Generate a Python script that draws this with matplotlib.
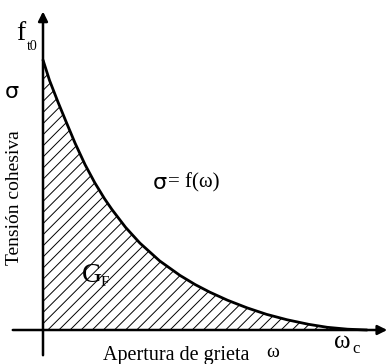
import matplotlib.pyplot as plt
from matplotlib.patches import FancyArrowPatch

# curva de ablandamiento (sigma / f_t0 frente a omega / omega_c)
omega = [0.0, 0.02, 0.046, 0.07, 0.099, 0.13, 0.16, 0.19, 0.213, 0.255, 0.299,
         0.36, 0.423, 0.47, 0.515, 0.57, 0.63, 0.69, 0.753, 0.82, 0.877, 0.94, 1.0]
sigma = [1.0, 0.925, 0.845, 0.775, 0.692, 0.612, 0.545, 0.486, 0.446, 0.38, 0.322,
         0.256, 0.202, 0.168, 0.14, 0.11, 0.082, 0.058, 0.038, 0.021, 0.01, 0.003, 0.0]

fig = plt.figure(figsize=(3.92, 3.64), dpi=100)
ax = fig.add_axes([0, 0, 1, 1])
ax.set_xlim(-43 / 324, (392 - 43) / 324)
ax.set_ylim(-34 / 270, (364 - 34) / 270)
ax.axis("off")

plt.rcParams["hatch.linewidth"] = 0.7
serif = "Liberation Serif"

# area bajo la curva (G_F)
ax.fill_between(omega, sigma, 0, facecolor="white", edgecolor="black",
                hatch="///", linewidth=0)
ax.plot(omega, sigma, color="black", linewidth=2, solid_capstyle="round",
        solid_joinstyle="round")

# ejes con flecha
ax.add_patch(FancyArrowPatch((-33 / 324, 0), (347 / 324, 0), arrowstyle="-|>",
                             mutation_scale=14, linewidth=1.8, color="black"))
ax.add_patch(FancyArrowPatch((0, -28 / 270), (0, 1.19), arrowstyle="-|>",
                             mutation_scale=14, linewidth=1.8, color="black"))

# textos
ax.text(-0.068, 1.10, "f", fontsize=20, family=serif, ha="center", va="center")
ax.text(-0.032, 1.05, "t0", fontsize=10, family=serif, ha="center", va="center")
ax.text(-0.095, 0.88, "σ", fontsize=16, family="DejaVu Sans", ha="center", va="center")
ax.text(-0.087, 0.49, "Tensión cohesiva", fontsize=14, family=serif,
        rotation=90, ha="center", va="center")
ax.text(0.34, 0.545, "σ", fontsize=16, family="DejaVu Sans", ha="left", va="center")
ax.text(0.385, 0.545, "= f(ω)", fontsize=15, family=serif, ha="left", va="center")
ax.text(0.12, 0.20, "G", fontsize=20, family=serif, ha="left", va="center")
ax.text(0.178, 0.175, "F", fontsize=11, family=serif, ha="left", va="center")
ax.text(0.923, -0.044, "ω", fontsize=18, family=serif, ha="center", va="center")
ax.text(0.965, -0.07, "c", fontsize=12, family=serif, ha="center", va="center")
ax.text(0.185, -0.093, "Apertura de grieta", fontsize=14.5, family=serif,
        ha="left", va="center")
ax.text(0.69, -0.085, "ω", fontsize=14, family=serif, ha="left", va="center")

fig.savefig("out.png", dpi=100)
